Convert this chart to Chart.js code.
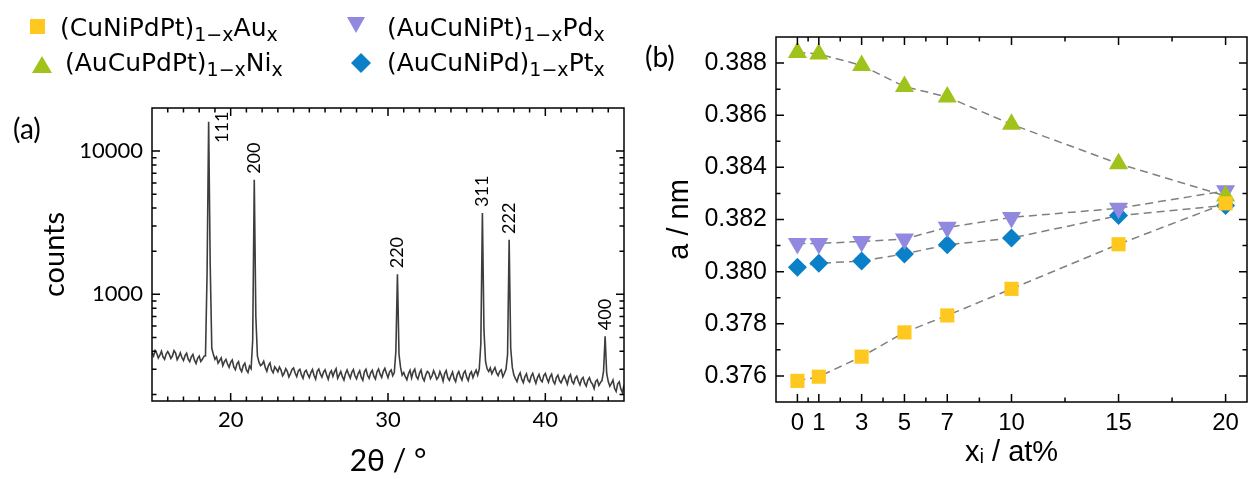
<!DOCTYPE html>
<html>
<head>
<meta charset="utf-8">
<script src="https://cdn.jsdelivr.net/npm/chart.js@4.4.1/dist/chart.umd.min.js"></script>
<style>
  body { margin: 0; background: #fff; }
  #wrap { position: relative; width: 1258px; height: 479px; overflow: hidden; font-family: Lato, "Open Sans", sans-serif; color: #000; }
  #boxA { position: absolute; left: 0; top: 0; width: 640px; height: 479px; }
  #boxB { position: absolute; left: 640px; top: 0; width: 618px; height: 479px; }
  .leg { position: absolute; font-family: "DejaVu Sans", sans-serif; font-size: 25px; line-height: 30px; white-space: nowrap; z-index: 2; }
  .leg sub { font-size: 19px; line-height: 0; vertical-align: -5px; }
  .mk { position: absolute; z-index: 2; }
  .panel { position: absolute; font-size: 28px; line-height: 34px; z-index: 2; }
</style>
</head>
<body>
<div id="wrap">
  <div id="boxA"><canvas id="xrd"></canvas></div>
  <div id="boxB"><canvas id="lattice"></canvas></div>

  <svg class="mk" style="left:30px;top:19px" width="15" height="15"><rect width="15" height="15" fill="#FFC81E"/></svg>
  <div class="leg" style="left:60px;top:13px">(CuNiPdPt)<sub>1−x</sub>Au<sub>x</sub></div>
  <svg class="mk" style="left:32px;top:56px" width="20" height="17"><polygon points="10,0 20,17 0,17" fill="#9FC31B"/></svg>
  <div class="leg" style="left:65px;top:48px">(AuCuPdPt)<sub>1−x</sub>Ni<sub>x</sub></div>

  <svg class="mk" style="left:347px;top:17px" width="18" height="16"><polygon points="0,0 18,0 9,16" fill="#9189E0"/></svg>
  <div class="leg" style="left:387px;top:13px">(AuCuNiPt)<sub>1−x</sub>Pd<sub>x</sub></div>
  <svg class="mk" style="left:351px;top:53px" width="20" height="20"><polygon points="10,0 20,10 10,20 0,10" fill="#0A80C8"/></svg>
  <div class="leg" style="left:387px;top:48px">(AuCuNiPd)<sub>1−x</sub>Pt<sub>x</sub></div>

  <div class="panel" style="left:13px;top:111px">(a)</div>
  <div class="panel" style="left:645px;top:39px">(b)</div>
</div>

<script>
// ---- (a) XRD pattern: counts on a 0.1 deg grid from 15 to 45 deg ----
const thetaStart = 15;
const thetaStep = 0.1;
const counts = [
  392, 371, 405, 388, 359, 376, 401, 366, 352, 383,
  398, 381, 357, 372, 404, 389, 350, 367, 391, 362,
  345, 373, 388, 352, 339, 366, 381, 347, 329, 358,
  371, 340, 352, 369, 372, 1400, 16000, 1600, 420, 381,
  352, 366, 331, 345, 360, 318, 339, 351, 326, 309,
  335, 348, 311, 298, 327, 339, 303, 289, 318, 330,
  297, 285, 316, 303, 480, 6300, 700, 372, 336, 318,
  325, 341, 309, 290, 318, 332, 296, 284, 312, 301,
  288, 311, 296, 270, 281, 303, 290, 265, 279, 299,
  306, 281, 266, 292, 300, 274, 259, 287, 295, 276,
  262, 284, 299, 271, 256, 290, 301, 278, 264, 286,
  297, 273, 255, 281, 293, 268, 288, 302, 259, 274,
  289, 266, 252, 280, 297, 276, 260, 285, 298, 270,
  257, 279, 293, 264, 251, 288, 300, 272, 259, 283,
  295, 268, 256, 287, 301, 277, 263, 290, 304, 281,
  262, 288, 297, 270, 284, 400, 1380, 380, 309, 273,
  284, 266, 253, 279, 295, 261, 288, 300, 267, 256,
  281, 296, 262, 249, 274, 290, 283, 258, 270, 293,
  276, 255, 264, 289, 271, 248, 280, 294, 262, 251,
  270, 287, 259, 246, 275, 289, 266, 252, 281, 292,
  264, 250, 277, 288, 262, 281, 296, 273, 300, 450,
  3700, 560, 340, 302, 289, 306, 279, 294, 308, 283,
  271, 290, 297, 266, 281, 300, 380, 2400, 420, 310,
  273, 258, 246, 269, 283, 255, 242, 266, 279, 252,
  244, 268, 281, 257, 239, 262, 276, 253, 245, 271,
  280, 259, 243, 266, 277, 248, 237, 262, 273, 250,
  241, 257, 270, 252, 236, 264, 275, 246, 238, 260,
  268, 247, 233, 255, 263, 240, 229, 251, 262, 244,
  236, 220, 247, 253, 231, 242, 250, 290, 510, 280,
  246, 228, 239, 252, 221, 210, 237, 245, 218, 206,
  232
];
const peakNames = ['111', '200', '220', '311', '222', '400'];
const peakTheta = [18.6, 21.5, 30.6, 36.0, 37.7, 43.8];
const thetaTickLabels = [20, 30, 40];
const countTickLabels = [1000, 10000];

// ---- (b) lattice parameter ----
const xAt = [0, 1, 3, 5, 7, 10, 15, 20];
const aAu = [0.37581, 0.37597, 0.37674, 0.37767, 0.37832, 0.37934, 0.38105, 0.38262];
const aNi = [0.38841, 0.38835, 0.38791, 0.38710, 0.38670, 0.38565, 0.38414, 0.38290];
const aPd = [0.38108, 0.38108, 0.38116, 0.38125, 0.38170, 0.38208, 0.38243, 0.38310];
const aPt = [0.38017, 0.38032, 0.38041, 0.38068, 0.38103, 0.38129, 0.38215, 0.38254];
const xTickLabels = [0, 1, 3, 5, 7, 10, 15, 20];
const xMinorTicks = [0.5, 2, 4, 6, 8.5, 12.5, 17.5];
const aTickLabels = [0.376, 0.378, 0.380, 0.382, 0.384, 0.386, 0.388];
const aMinorTicks = [0.377, 0.379, 0.381, 0.383, 0.385, 0.387];

const fontA = 'Lato, "Open Sans", sans-serif';
const fontB = '"Liberation Sans", Arial, sans-serif';

const xrdPoints = counts.map((c, i) => ({ x: +(thetaStart + i * thetaStep).toFixed(1), y: c }));
const countAt = t => counts[Math.round((t - thetaStart) / thetaStep)];

// frame + inward ticks on all four sides
const frameTicks = {
  id: 'frameTicks',
  afterDraw(chart, args, o) {
    const { ctx, chartArea: a, scales: { x, y } } = chart;
    ctx.save();
    ctx.strokeStyle = '#000';
    ctx.lineWidth = 1.5;
    ctx.beginPath();
    const mark = (vals, len, horiz) => {
      vals.forEach(v => {
        if (horiz) {
          const p = x.getPixelForValue(v);
          ctx.moveTo(p, a.bottom); ctx.lineTo(p, a.bottom - len);
          ctx.moveTo(p, a.top); ctx.lineTo(p, a.top + len);
        } else {
          const p = y.getPixelForValue(v);
          ctx.moveTo(a.left, p); ctx.lineTo(a.left + len, p);
          ctx.moveTo(a.right, p); ctx.lineTo(a.right - len, p);
        }
      });
    };
    mark(o.xMajor, 8, true);
    mark(o.xMinor, 4.5, true);
    mark(o.yMajor, 8, false);
    mark(o.yMinor, 4.5, false);
    ctx.stroke();
    ctx.strokeRect(a.left, a.top, a.right - a.left, a.bottom - a.top);
    ctx.restore();
  }
};

const peakLabels = {
  id: 'peakLabels',
  afterDatasetsDraw(chart) {
    const { ctx, scales: { x, y } } = chart;
    ctx.save();
    ctx.font = '18px ' + fontA;
    ctx.fillStyle = '#000';
    ctx.textAlign = 'left';
    ctx.textBaseline = 'middle';
    peakNames.forEach((name, i) => {
      const px = x.getPixelForValue(peakTheta[i]);
      const py = y.getPixelForValue(countAt(peakTheta[i]));
      const off = i === 0 ? [14, 21] : [0, -6];
      ctx.save();
      ctx.translate(px + off[0], py + off[1]);
      ctx.rotate(-Math.PI / 2);
      ctx.fillText(name, 0, 0);
      ctx.restore();
    });
    ctx.restore();
  }
};

const thetaMinor = [];
for (let t = 16; t < 45; t++) if (!thetaTickLabels.includes(t)) thetaMinor.push(t);
const countMinor = [];
[100, 1000, 10000].forEach(d => { for (let k = 2; k <= 9; k++) if (d * k > 180 && d * k < 20000) countMinor.push(d * k); });

new Chart(document.getElementById('xrd'), {
  type: 'scatter',
  data: {
    datasets: [{
      data: xrdPoints,
      showLine: true,
      borderColor: '#3d3d3d',
      borderWidth: 1.6,
      pointRadius: 0,
      tension: 0
    }]
  },
  options: {
    responsive: true,
    maintainAspectRatio: false,
    animation: false,
    layout: { padding: { top: 108, right: 16, left: 0, bottom: 0 } },
    plugins: {
      legend: { display: false },
      tooltip: { enabled: false },
      frameTicks: { xMajor: thetaTickLabels, xMinor: thetaMinor, yMajor: countTickLabels, yMinor: countMinor }
    },
    scales: {
      x: {
        type: 'linear', min: 15, max: 45,
        grid: { display: false, drawTicks: false },
        border: { display: false },
        afterBuildTicks: s => { s.ticks = thetaTickLabels.map(v => ({ value: v })); },
        ticks: { color: '#000', font: { family: fontA, size: 22 }, padding: 6, maxRotation: 0, autoSkip: false },
        title: { display: true, text: '2θ / °', color: '#000', font: { family: fontA, size: 30 }, padding: { top: 0, bottom: 0 } },
        afterFit: s => { s.height = 78; }
      },
      y: {
        type: 'logarithmic', min: 180, max: 20000,
        grid: { display: false, drawTicks: false },
        border: { display: false },
        afterBuildTicks: s => { s.ticks = countTickLabels.map(v => ({ value: v })); },
        ticks: { color: '#000', font: { family: fontA, size: 22 }, padding: 9, autoSkip: false, callback: v => String(v) },
        title: { display: true, text: 'counts', color: '#000', font: { family: fontA, size: 29 }, padding: { top: 37, bottom: 0 } },
        afterFit: s => { s.width = 152; }
      }
    }
  },
  plugins: [peakLabels, frameTicks]
});

const series = [
  { data: aAu, color: '#FFC81E', style: 'rect', r: 10, rot: 0 },
  { data: aNi, color: '#9FC31B', style: 'triangle', r: 11, rot: 0 },
  { data: aPd, color: '#9189E0', style: 'triangle', r: 11, rot: 180 },
  { data: aPt, color: '#0A80C8', style: 'rectRot', r: 9.5, rot: 0 }
];

new Chart(document.getElementById('lattice'), {
  type: 'scatter',
  data: {
    datasets: series.map(s => ({
      data: xAt.map((x, i) => ({ x: x, y: s.data[i] })),
      showLine: true,
      borderColor: '#808080',
      borderWidth: 1.5,
      borderDash: [8, 5],
      pointStyle: s.style,
      pointRotation: s.rot,
      pointRadius: s.r,
      pointBackgroundColor: s.color,
      pointBorderColor: s.color,
      pointBorderWidth: 0
    }))
  },
  options: {
    responsive: true,
    maintainAspectRatio: false,
    animation: false,
    layout: { padding: { top: 37, right: 2, left: 0, bottom: 0 } },
    plugins: {
      legend: { display: false },
      tooltip: { enabled: false },
      frameTicks: { xMajor: xTickLabels, xMinor: xMinorTicks, yMajor: aTickLabels, yMinor: aMinorTicks }
    },
    scales: {
      x: {
        type: 'linear', min: -1, max: 21,
        grid: { display: false, drawTicks: false },
        border: { display: false },
        afterBuildTicks: s => { s.ticks = xTickLabels.map(v => ({ value: v })); },
        ticks: { color: '#000', font: { family: fontB, size: 24 }, padding: 7, maxRotation: 0, autoSkip: false },
        title: { display: true, text: 'xᵢ / at%', color: '#000', font: { family: fontB, size: 29 }, padding: { top: 0, bottom: 8.6 } },
        afterFit: s => { s.height = 77; }
      },
      y: {
        type: 'linear', min: 0.375, max: 0.389,
        grid: { display: false, drawTicks: false },
        border: { display: false },
        afterBuildTicks: s => { s.ticks = aTickLabels.map(v => ({ value: v })); },
        ticks: { color: '#000', font: { family: fontB, size: 25 }, padding: 9, autoSkip: false, callback: v => v.toFixed(3) },
        title: { display: true, text: 'a / nm', color: '#000', font: { family: fontB, size: 29 }, padding: { top: 22.6, bottom: 0 } },
        afterFit: s => { s.width = 136; }
      }
    }
  },
  plugins: [frameTicks]
});
</script>
</body>
</html>
